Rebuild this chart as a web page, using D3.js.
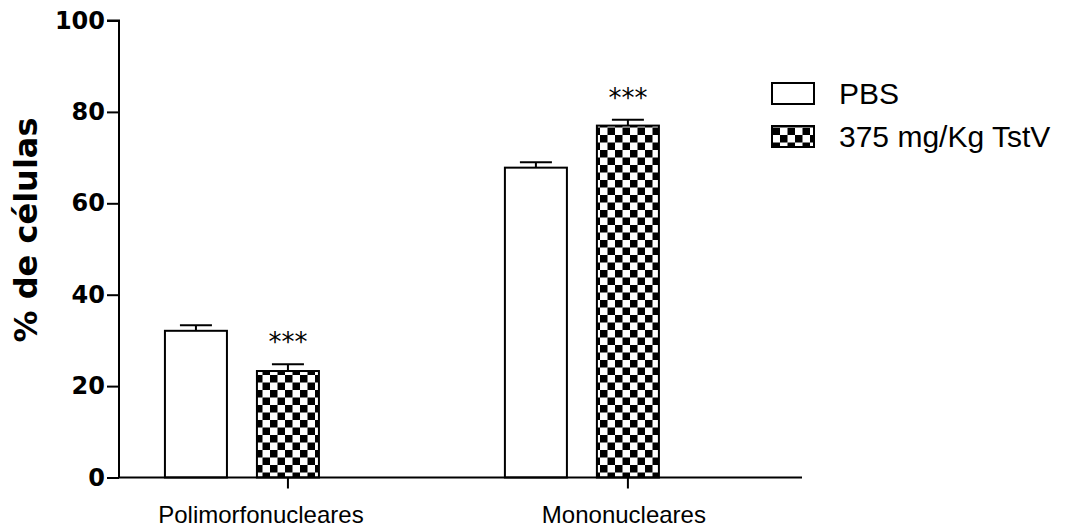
<!DOCTYPE html>
<html>
<head>
<meta charset="utf-8">
<script src="https://cdn.jsdelivr.net/npm/d3@7"></script>
<style>
  html, body { margin: 0; padding: 0; background: #fff; }
  svg { display: block; }
</style>
</head>
<body>
<svg id="chart" width="1076" height="530"></svg>
<script>
// Cell populations (% of cells) by treatment group
const categories = ["Polimorfonucleares", "Mononucleares"];
const series = ["PBS", "375 mg/Kg TstV"];
const meanPBS = [32.1, 67.8];
const meanTstV = [23.3, 77.0];
const semPBS = [1.2, 1.2];
const semTstV = [1.5, 1.3];
const significance = ["", "***"];   // per series: marks shown above TstV bars
const yTicks = [0, 20, 40, 60, 80, 100];
const yTitle = "% de células";

const svg = d3.select("#chart");
const black = "#000";

// Scales
const y = d3.scaleLinear().domain([0, 100]).range([477.5, 20.5]);
const x0 = d3.scaleBand().domain(categories)
  .range([119, 802]).paddingInner(0.547).paddingOuter(0.278).align(0.243);
const x1 = d3.scaleBand().domain(series)
  .range([0, x0.bandwidth()]).paddingInner(0.326);

// Checkerboard fill
const defs = svg.append("defs");
const cell = 7.5;
const pat = defs.append("pattern")
  .attr("id", "checker")
  .attr("patternUnits", "userSpaceOnUse")
  .attr("width", cell * 2).attr("height", cell * 2);
pat.append("rect").attr("width", cell * 2).attr("height", cell * 2).attr("fill", "#fff");
pat.append("rect").attr("x", 0).attr("y", 0).attr("width", cell).attr("height", cell).attr("fill", black);
pat.append("rect").attr("x", cell).attr("y", cell).attr("width", cell).attr("height", cell).attr("fill", black);

const fills = { "PBS": "#fff", "375 mg/Kg TstV": "url(#checker)" };

// Build rows for drawing
const rows = [];
categories.forEach((c, i) => {
  rows.push({ cat: c, s: series[0], v: meanPBS[i], e: semPBS[i], sig: significance[0] });
  rows.push({ cat: c, s: series[1], v: meanTstV[i], e: semTstV[i], sig: significance[1] });
});

const g = svg.append("g");

// Bars
g.selectAll("rect.bar").data(rows).join("rect")
  .attr("class", "bar")
  .attr("x", d => x0(d.cat) + x1(d.s))
  .attr("y", d => y(d.v))
  .attr("width", x1.bandwidth())
  .attr("height", d => y(0) - y(d.v))
  .attr("fill", d => fills[d.s])
  .attr("stroke", black)
  .attr("stroke-width", 2);

// Error bars (upper half)
const capW = 32;
const cx = d => x0(d.cat) + x1(d.s) + x1.bandwidth() / 2;
g.selectAll("line.err").data(rows).join("line")
  .attr("x1", cx).attr("x2", cx)
  .attr("y1", d => y(d.v)).attr("y2", d => y(d.v + d.e))
  .attr("stroke", black).attr("stroke-width", 2);
g.selectAll("line.cap").data(rows).join("line")
  .attr("x1", d => cx(d) - capW / 2).attr("x2", d => cx(d) + capW / 2)
  .attr("y1", d => y(d.v + d.e)).attr("y2", d => y(d.v + d.e))
  .attr("stroke", black).attr("stroke-width", 2);

// Significance marks
g.selectAll("text.sig").data(rows.filter(d => d.sig)).join("text")
  .attr("x", cx)
  .attr("y", d => y(d.v + d.e) - 13)
  .attr("text-anchor", "middle")
  .attr("font-family", "DejaVu Sans")
  .attr("font-size", 26)
  .text(d => d.sig);

// Y axis
const yAxis = svg.append("g")
  .attr("transform", "translate(119,0)")
  .call(d3.axisLeft(y).tickValues(yTicks).tickSize(12).tickPadding(2).tickFormat(d3.format("d")));
yAxis.select(".domain").attr("stroke-width", 2).attr("d", `M-12,${y(100)}H0V${y(0)}`);
yAxis.selectAll(".tick line").attr("stroke-width", 2);
yAxis.selectAll(".tick text")
  .attr("font-family", "DejaVu Sans").attr("font-weight", "bold")
  .attr("font-size", 24).attr("fill", black);

// X axis baseline and ticks under the treated bars
svg.append("line")
  .attr("x1", 119).attr("x2", 802)
  .attr("y1", y(0)).attr("y2", y(0))
  .attr("stroke", black).attr("stroke-width", 2);
const tickX = c => x0(c) + x1(series[1]) + x1.bandwidth() / 2;
svg.selectAll("line.xtick").data(categories).join("line")
  .attr("x1", tickX).attr("x2", tickX)
  .attr("y1", y(0)).attr("y2", y(0) + 11)
  .attr("stroke", black).attr("stroke-width", 2);

// Category labels
const labelShift = { "Polimorfonucleares": -27, "Mononucleares": -4 };
svg.selectAll("text.cat").data(categories).join("text")
  .attr("x", c => tickX(c) + labelShift[c])
  .attr("y", 523)
  .attr("text-anchor", "middle")
  .attr("font-family", "Liberation Sans, Arial, sans-serif")
  .attr("font-size", 24)
  .text(c => c);

// Y title
svg.append("text")
  .attr("transform", "translate(37,230) rotate(-90)")
  .attr("text-anchor", "middle")
  .attr("font-family", "DejaVu Sans")
  .attr("font-weight", "bold")
  .attr("font-size", 32)
  .text(yTitle);

// Legend
const legend = svg.append("g");
const legendRows = [83, 126];
series.forEach((s, i) => {
  legend.append("rect")
    .attr("x", 772).attr("y", legendRows[i])
    .attr("width", 42).attr("height", 21)
    .attr("fill", fills[s]).attr("stroke", black).attr("stroke-width", 2);
  legend.append("text")
    .attr("x", 839).attr("y", legendRows[i] + 21)
    .attr("font-family", "Liberation Sans, Arial, sans-serif")
    .attr("font-size", 30)
    .text(s);
});
</script>
</body>
</html>
